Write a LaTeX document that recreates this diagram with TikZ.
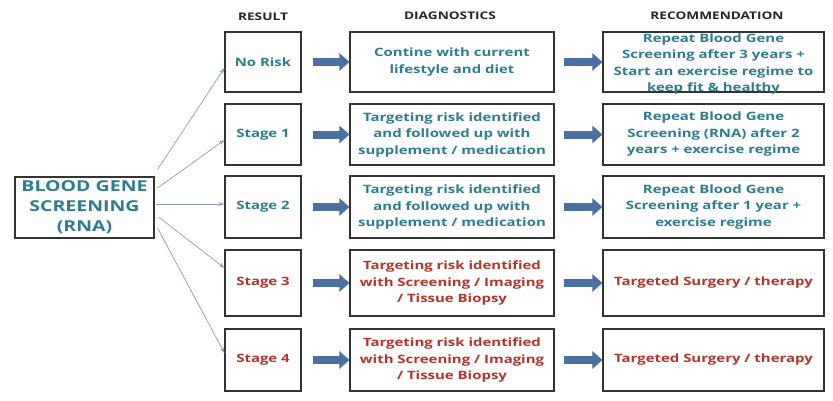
\documentclass[tikz,border=0pt]{standalone}
\usepackage{fontspec}
\setmainfont{Open Sans}[FakeStretch=1.3]
\usetikzlibrary{arrows.meta}
\definecolor{tealtxt}{HTML}{2F7C8E}
\definecolor{redtxt}{HTML}{B0352D}
\definecolor{boxline}{HTML}{333333}
\definecolor{blkarrow}{HTML}{4A6FA0}
\definecolor{thinarrow}{HTML}{8A9FBC}
\tikzset{
  box/.style={draw=boxline, line width=1.1pt, fill=white, inner sep=0pt, align=center,
    font=\fontsize{11.5}{16.5}\selectfont\bfseries},
  resbox/.style={box, minimum width=76pt},
  diagbox/.style={box, minimum width=204pt},
  recbox/.style={box, minimum width=221pt},
  hdr/.style={font=\fontsize{10.5}{12}\selectfont\bfseries, text=black!85},
  tealt/.style={text=tealtxt},
  redt/.style={text=redtxt},
  blk/.style={draw=blkarrow, line width=8pt, -{Triangle[length=10pt,width=17pt]}, blkarrow},
  thin/.style={draw=thinarrow, line width=0.7pt, -{Stealth[length=6pt,width=4pt]}},
}
\begin{document}
\begin{tikzpicture}[x=1pt,y=1pt]
\useasboundingbox (0,0) rectangle (833,400);
\fill[white] (0,0) rectangle (833,400);

% headers
\node[hdr] (h1) at (263,383) {RESULT};
\node[hdr] (h2) at (450,384) {DIAGNOSTICS};
\node[hdr] (h3) at (717,384) {RECOMMENDATION};

% blood gene
\node[box, minimum width=139pt, minimum height=61pt, tealt,
  font=\fontsize{15}{20}\selectfont\bfseries] (b) at (84.5,192.5) {BLOOD GENE\\SCREENING\\(RNA)};

% result column
\node[resbox, minimum height=60pt, tealt] (r1) at (263,338) {No Risk};
\node[resbox, minimum height=61pt, tealt] (r2) at (263,265.5) {Stage 1};
\node[resbox, minimum height=62pt, tealt] (r3) at (263,193) {Stage 2};
\node[resbox, minimum height=66pt, redt] (r4) at (263,117) {Stage 3};
\node[resbox, minimum height=62pt, redt] (r5) at (263,40) {Stage 4};

% diagnostics column
\node[diagbox, minimum height=60pt, tealt] (d1) at (452,338) {Contine with current\\lifestyle and diet};
\node[diagbox, minimum height=61pt, tealt] (d2) at (452,265.5) {Targeting risk identified\\and followed up with\\supplement / medication};
\node[diagbox, minimum height=62pt, tealt] (d3) at (452,193) {Targeting risk identified\\and followed up with\\supplement / medication};
\node[diagbox, minimum height=66pt, redt] (d4) at (452,117) {Targeting risk identified\\with Screening / Imaging\\/ Tissue Biopsy};
\node[diagbox, minimum height=62pt, redt] (d5) at (452,40) {Targeting risk identified\\with Screening / Imaging\\/ Tissue Biopsy};

% recommendation column
\node[recbox, minimum height=60pt] (c1) at (713.5,338) {};
\node[box, draw=none, fill=none, tealt] (c1t) at (713.5,336) {Repeat Blood Gene\\Screening after 3 years +\\Start an exercise regime to\\keep fit \& healthy};
\node[recbox, minimum height=61pt, tealt] (c2) at (713.5,265.5) {Repeat Blood Gene\\Screening (RNA) after 2\\years + exercise regime};
\node[recbox, minimum height=62pt, tealt] (c3) at (713.5,193) {Repeat Blood Gene\\Screening after 1 year +\\exercise regime};
\node[recbox, minimum height=66pt, redt] (c4) at (713.5,117) {Targeted Surgery / therapy};
\node[recbox, minimum height=62pt, redt] (c5) at (713.5,40) {Targeted Surgery / therapy};

% thin arrows
\draw[thin] ([xshift=3pt,yshift=7pt]b.north east) -- ([yshift=-6pt]r1.west);
\draw[thin] ([xshift=3pt,yshift=19.5pt]b.east) -- ([yshift=-5.5pt]r2.west);
\draw[thin] ([xshift=1pt,yshift=3.5pt]b.east) -- ([yshift=3pt]r3.west);
\draw[thin] ([xshift=4pt,yshift=-9.5pt]b.east) -- ([yshift=15pt]r4.west);
\draw[thin] ([xshift=3pt,yshift=-20.5pt]b.east) -- ([yshift=7pt]r5.west);

% block arrows
\foreach \i in {1,...,5}{
  \draw[blk] ([xshift=11pt]r\i.east) -- (d\i.west);
  \draw[blk] ([xshift=9pt]d\i.east) -- (c\i.west);
}
\end{tikzpicture}
\end{document}
